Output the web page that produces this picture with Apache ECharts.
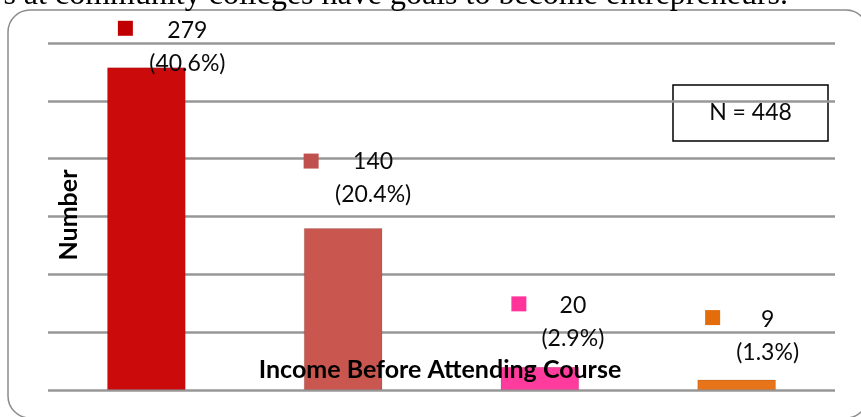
<!DOCTYPE html>
<html>
<head>
<meta charset="utf-8">
<script src="https://cdn.jsdelivr.net/npm/echarts@6/dist/echarts.min.js"></script>
<style>
  html, body { margin: 0; padding: 0; background: #fff; }
  #chart { width: 861px; height: 417px; }
</style>
</head>
<body>
<div id="chart"></div>
<script>
// Respondent counts by income level before attending the course
const categories = ['Level 1', 'Level 2', 'Level 3', 'Level 4'];
const counts = [279, 140, 20, 9];
const percents = ['40.6%', '20.4%', '2.9%', '1.3%'];
const totalN = 448;
const yTicks = { min: 0, max: 300, interval: 50 };

// Styling: one colour per bar, plus hand-placed label blocks
const barColors = ['#CB0B0B', '#C9574F', '#FF3C9E', '#E8741A'];
const keyColors = ['#C00000', '#C0504D', '#FF3399', '#E46C0A'];
const labelOffsets = [[41, 13], [30, -17], [33, -12], [31, -11]];
const keyOffsets = [[-21, -39], [-32, -67], [-21, -63], [-24, -62]];

const FONT = 'Lato';
const gridLine = { color: '#979797', width: 2.5 };

const chart = echarts.init(document.getElementById('chart'), null, { renderer: 'canvas' });

chart.setOption({
  animation: false,
  grid: { left: 48, right: 26, top: 43, bottom: 27 },
  xAxis: {
    type: 'category',
    data: categories,
    axisLine: { show: false },
    axisTick: { show: false },
    axisLabel: { show: false }
  },
  yAxis: {
    type: 'value',
    min: yTicks.min,
    max: yTicks.max,
    interval: yTicks.interval,
    axisLine: { show: false },
    axisTick: { show: false },
    axisLabel: { show: false },
    splitLine: { lineStyle: gridLine }
  },
  series: [
    {
      type: 'bar',
      barCategoryGap: '60%',
      z: 2,
      data: counts.map((v, i) => ({
        value: v,
        itemStyle: { color: barColors[i], borderColor: 'rgba(0,0,0,0.12)', borderWidth: 1 },
        label: { offset: labelOffsets[i] }
      })),
      label: {
        show: true,
        position: 'top',
        distance: 0,
        align: 'center',
        formatter: p => `{v|${counts[p.dataIndex]}}\n{p|(${percents[p.dataIndex]})}`,
        rich: {
          v: { fontFamily: FONT, fontSize: 23, lineHeight: 33, color: '#0a0a0a' },
          p: { fontFamily: FONT, fontSize: 23, lineHeight: 33, color: '#0a0a0a' }
        }
      }
    },
    {
      // colour keys beside each value label
      type: 'scatter',
      symbol: 'rect',
      symbolSize: 15,
      z: 3,
      data: counts.map((v, i) => ({
        value: v,
        symbolOffset: keyOffsets[i],
        itemStyle: { color: keyColors[i], opacity: 1 }
      }))
    }
  ],
  graphic: [
    {
      type: 'rect',
      z: 0,
      shape: { x: 8, y: 10, width: 860, height: 408, r: 22 },
      style: { fill: 'none', stroke: '#8c8c8c', lineWidth: 1.5 }
    },
    {
      type: 'text',
      z: 10,
      x: 788,
      y: -4,
      style: {
        text: 's at community colleges have goals to become entrepreneurs.',
        font: '32px "Liberation Serif"',
        fill: '#000',
        textAlign: 'right',
        textVerticalAlign: 'middle'
      }
    },
    {
      type: 'group',
      z: 100,
      children: [
        {
          type: 'rect',
          shape: { x: 673, y: 85, width: 155, height: 56 },
          style: { fill: '#fff', stroke: '#000', lineWidth: 1.5 }
        },
        {
          type: 'text',
          x: 750.5,
          y: 113,
          style: {
            text: 'N = ' + totalN,
            font: '23px ' + FONT,
            fill: '#0a0a0a',
            textAlign: 'center',
            textVerticalAlign: 'middle'
          }
        }
      ]
    },
    {
      type: 'text',
      z: 100,
      x: 440,
      y: 370,
      style: {
        text: 'Income Before Attending Course',
        font: 'bold 25px ' + FONT,
        fill: '#000',
        textAlign: 'center',
        textVerticalAlign: 'middle'
      }
    },
    {
      type: 'text',
      z: 100,
      x: 69,
      y: 215,
      rotation: Math.PI / 2,
      style: {
        text: 'Number',
        font: 'bold 25px ' + FONT,
        fill: '#000',
        textAlign: 'center',
        textVerticalAlign: 'middle'
      }
    }
  ]
});
</script>
</body>
</html>
